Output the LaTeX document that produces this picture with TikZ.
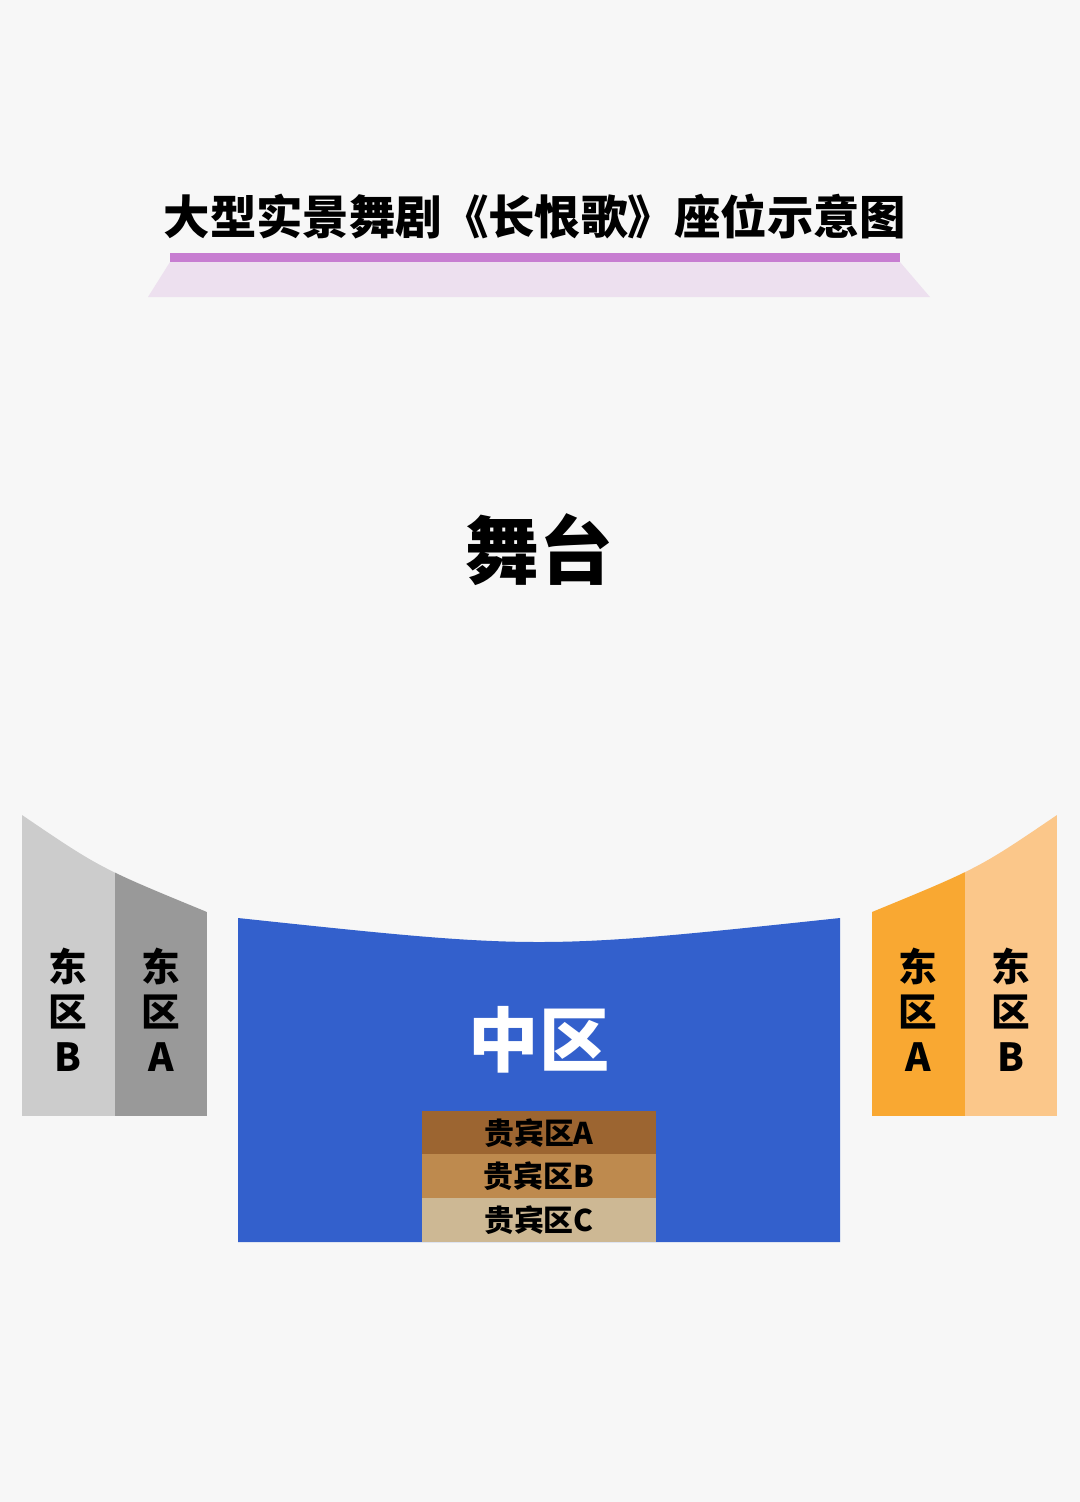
\documentclass[tikz,border=0pt]{standalone}
\usepackage{fontspec}
\newfontfamily\cjk{Noto Sans CJK SC}
\begin{document}
\begin{tikzpicture}[x=0.01cm,y=-0.01cm,
  zone/.style={font=\cjk\bfseries\fontsize{11}{12}\selectfont,text=black,inner sep=0pt},
  vip/.style={font=\cjk\bfseries\fontsize{8.5}{9}\selectfont,text=black}]
\definecolor{bg}{HTML}{F7F7F7}
\definecolor{bar}{HTML}{C77DD1}
\definecolor{trap}{HTML}{EDE0EF}
\definecolor{gl}{HTML}{CCCCCC}
\definecolor{gd}{HTML}{999999}
\definecolor{od}{HTML}{F9A832}
\definecolor{ol}{HTML}{FBC78A}
\definecolor{blu}{HTML}{3360CC}
\definecolor{va}{HTML}{9C6531}
\definecolor{vb}{HTML}{BE8A4E}
\definecolor{vc}{HTML}{CDB894}
\fill[bg] (0,0) rectangle (1080,1502);
\useasboundingbox (0,0) rectangle (1080,1502);
% title
\node[font=\cjk\bfseries\fontsize{13.2}{14}\selectfont] (title) at (535,217) {大型实景舞剧《长恨歌》座位示意图};
\fill[trap] (170,262) -- (900,262) -- (930,297) -- (148,297) -- cycle;
\fill[bar] (170,253) rectangle (900,262);
% stage
\node[font=\cjk\bfseries\fontsize{21}{22}\selectfont] (stage) at (539,550) {舞台};
% left blocks
\begin{scope}
\clip (22,815) .. controls (100,868) .. (207,912) -- (207,1116) -- (22,1116) -- cycle;
\fill[gl] (22,800) rectangle (115,1116);
\fill[gd] (115,800) rectangle (207,1116);
\end{scope}
\begin{scope}
\clip (1057,815) .. controls (979,868) .. (872,912) -- (872,1116) -- (1057,1116) -- cycle;
\fill[ol] (965,800) rectangle (1057,1116);
\fill[od] (872,800) rectangle (965,1116);
\end{scope}
\foreach \x/\l/\n in {68/B/lb,161/A/la,918/A/ra,1011/B/rb}{
  \node[zone] (\n1) at (\x,966) {东};
  \node[zone] (\n2) at (\x,1012) {区};
  \node[zone] (\n3) at (\x,1057) {\l};
}
% center
\fill[blu] (238,918) .. controls (539,950) .. (840,918) -- (840,1242) -- (238,1242) -- cycle;
\node[font=\cjk\bfseries\fontsize{20}{21}\selectfont,text=white] (mid) at (539,1040) {中区};
\fill[va] (422,1111) rectangle (656,1154);
\fill[vb] (422,1154) rectangle (656,1198);
\fill[vc] (422,1198) rectangle (656,1242);
\node[vip] (v1) at (539,1133) {贵宾区A};
\node[vip] (v2) at (539,1176) {贵宾区B};
\node[vip] (v3) at (539,1220) {贵宾区C};
\end{tikzpicture}
\end{document}
